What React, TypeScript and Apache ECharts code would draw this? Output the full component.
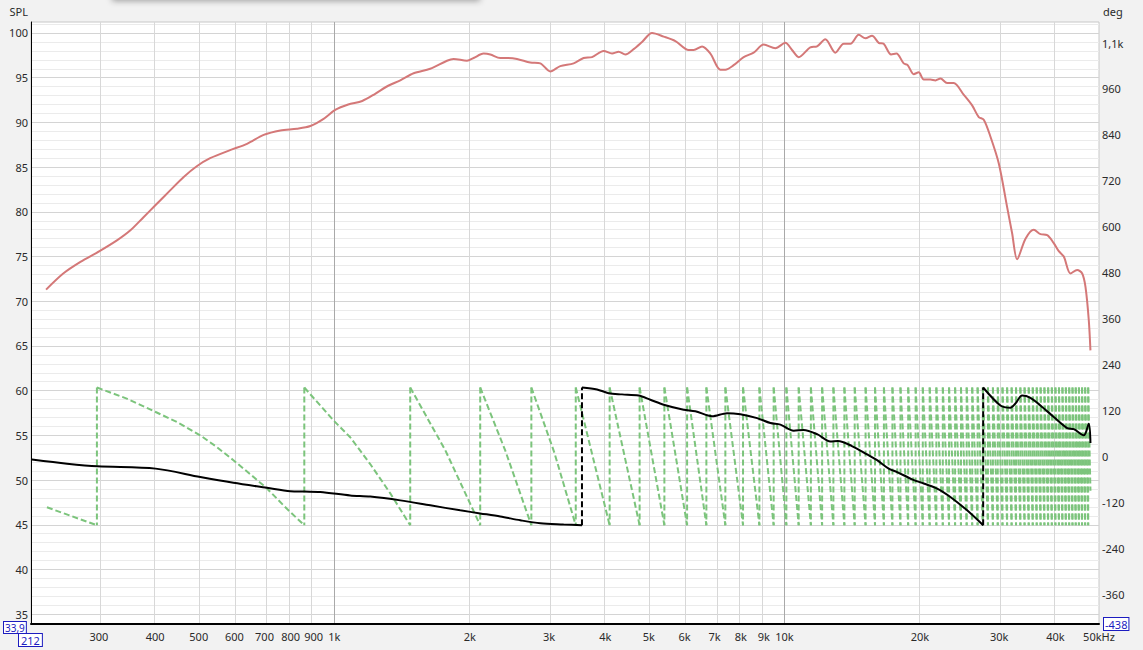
import React, { useEffect, useRef } from "react";
import * as echarts from "echarts";

// ---- axis ticks ----
const freqTicks = [300, 400, 500, 600, 700, 800, 900, 1000, 2000, 3000, 4000, 5000, 6000, 7000, 8000, 9000, 10000, 20000, 30000, 40000, 50000];
const freqTickLabels = ["300", "400", "500", "600", "700", "800", "900", "1k", "2k", "3k", "4k", "5k", "6k", "7k", "8k", "9k", "10k", "20k", "30k", "40k", "50kHz"];
const splTicks = [35, 40, 45, 50, 55, 60, 65, 70, 75, 80, 85, 90, 95, 100];
const degTicks = [-360, -240, -120, 0, 120, 240, 360, 480, 600, 720, 840, 960, 1080];
const degTickLabels = ["-360", "-240", "-120", "0", "120", "240", "360", "480", "600", "720", "840", "960", "1,1k"];
const splGridLines = [34, 35, 36, 37, 38, 39, 40, 41, 42, 43, 44, 45, 46, 47, 48, 49, 50, 51, 52, 53, 54, 55, 56, 57, 58, 59, 60, 61, 62, 63, 64, 65, 66, 67, 68, 69, 70, 71, 72, 73, 74, 75, 76, 77, 78, 79, 80, 81, 82, 83, 84, 85, 86, 87, 88, 89, 90, 91, 92, 93, 94, 95, 96, 97, 98, 99, 100, 101];

// ---- SPL (dB) ----
const splHz = [229, 250, 273, 301, 329, 352, 377, 400, 432, 463, 495, 530, 587, 640, 697, 759, 826, 885, 947, 1005, 1074, 1154, 1233, 1318, 1402, 1501, 1634, 1780, 1841, 1972, 2040, 2147, 2222, 2338, 2420, 2547, 2726, 2870, 3020, 3178, 3403, 3581, 3738, 3967, 4141, 4284, 4433, 4626, 4829, 5082, 5394, 5726, 6129, 6287, 6564, 6849, 7208, 7394, 7714, 8120, 8546, 8995, 9550, 10050, 10400, 10760, 11420, 11820, 12330, 12980, 13550, 14020, 14630, 15140, 15660, 16200, 16620, 17260, 17740, 18410, 18790, 19380, 19880, 20400, 21100, 21660, 22220, 22990, 23780, 25020, 26130, 27030, 27730, 28700, 29950, 31260, 32060, 32890, 34330, 35810, 37060, 38360, 39670, 40700, 41760, 43210, 44710, 45880, 46660, 47450, 47860];
const splDb = [71.3, 73.1, 74.4, 75.6, 76.8, 77.9, 79.4, 80.7, 82.4, 83.9, 85.1, 86.0, 86.9, 87.6, 88.6, 89.1, 89.3, 89.6, 90.4, 91.4, 92.0, 92.4, 93.2, 94.1, 94.7, 95.5, 96.0, 96.9, 97.1, 96.9, 97.2, 97.7, 97.6, 97.2, 97.2, 97.1, 96.7, 96.6, 95.7, 96.3, 96.6, 97.2, 97.3, 98.0, 97.7, 97.9, 97.6, 98.2, 99.0, 100.0, 99.6, 99.1, 98.1, 98.1, 98.5, 97.7, 95.9, 95.9, 96.4, 97.3, 97.8, 98.7, 98.3, 98.9, 98.1, 97.3, 98.4, 98.5, 99.3, 97.8, 98.8, 98.8, 99.8, 99.4, 99.7, 98.9, 98.8, 97.6, 97.7, 96.6, 96.4, 95.4, 95.6, 94.8, 94.8, 94.7, 94.9, 94.4, 94.4, 93.1, 91.9, 90.6, 90.3, 88.4, 85.4, 80.5, 77.6, 74.7, 77.0, 78.0, 77.5, 77.4, 76.5, 75.6, 75.0, 73.1, 73.5, 73.1, 71.6, 67.9, 64.5];

// ---- measured phase (deg), wrapped ----
const phaseA = [[213, -8], [255, -19], [298, -26], [401, -32], [504, -54], [597, -69], [709, -82], [799, -91], [858, -92], [931, -93], [1085, -102], [1202, -105], [1402, -115], [1634, -128], [1905, -141], [2110, -149], [2338, -157], [2590, -167], [2870, -175], [3233, -178], [3551, -180]];
const phaseB = [[3551, 180], [3836, 175], [4070, 165], [4359, 162], [4745, 159], [5038, 148], [5394, 135], [5973, 122], [6342, 118], [6908, 105], [7459, 113], [7985, 110], [8699, 100], [9309, 87], [9797, 83], [10489, 67], [11037, 69], [11822, 58], [12653, 39], [13149, 40], [14125, 27], [15272, 5], [16069, -10], [17055, -32], [17800, -41], [19222, -60], [20395, -71], [21843, -84], [23380, -106], [25468, -141], [27644, -180]];
const phaseC = [[27644, 180], [30200, 133], [31780, 127], [32600, 138], [33740, 159], [35210, 153], [37060, 133], [39670, 103], [42480, 74], [43950, 71], [46260, 55], [47450, 85], [47860, 35]];
const phaseWrapsHz = [3551, 27644];

// ---- second (green, dashed) wrapped phase ----
const greenStart = [230, -133];
const greenWrapsHz = [297, 858, 1475, 2110, 2741, 3440, 4091, 4769, 5413, 6080, 6710, 7394, 8094, 8801, 9467, 10103, 10759, 11452, 12130, 12850, 13593, 14330, 15150, 15900, 16640, 17380, 18110, 18840, 19570, 20300, 21030, 21760, 22490, 23220, 23950, 24680, 25410, 26140, 26870, 27600, 28330, 29060, 29790, 30520, 31250, 31980, 32710, 33440, 34170, 34900, 35630, 36360, 37090, 37820, 38550, 39280, 40010, 40740, 41470, 42200, 42930, 43660, 44390, 45120, 45850, 46580, 47310];
const greenMid = [[346, 151], [401, 116], [447, 90], [504, 55], [549, 24], [597, -10], [662, -54], [709, -84], [785, -137], [996, 94], [1085, 50], [1202, -20], [1331, -96], [1765, 16], [2399, 15], [3083, 10]];
const greenEnd = [47860, -90];

const FONT = '"Noto Sans", "Open Sans", sans-serif';
const lg = (f: number) => Math.log10(f);

// each wrap segment is its own polyline so the dash pattern restarts at the top of each one
function buildGreenSegments() {
  const segs: number[][][] = [];
  const w = greenWrapsHz;
  segs.push([[lg(greenStart[0]), greenStart[1]], [lg(w[0]), -180]]);
  for (let i = 0; i < w.length; i++) {
    segs.push([[lg(w[i]), 180], [lg(w[i]), -180]]);
    const seg: number[][] = [[lg(w[i]), 180]];
    const next = i + 1 < w.length ? w[i + 1] : Infinity;
    greenMid.filter((p) => p[0] > w[i] && p[0] < next).forEach((p) => seg.push([lg(p[0]), p[1]]));
    if (i + 1 < w.length) seg.push([lg(w[i + 1]), -180]);
    else seg.push([lg(greenEnd[0]), greenEnd[1]]);
    segs.push(seg);
  }
  return segs;
}

export default function App() {
  const ref = useRef<HTMLDivElement>(null);
  useEffect(() => {
    if (!ref.current) return;
    const chart = echarts.init(ref.current, null, { renderer: "svg" });
    const hLines = splGridLines.map((v) => ({
      yAxis: v,
      lineStyle: { color: v % 5 === 0 ? "#d4d4d4" : "#ebebeb", width: 1, type: "solid" },
    }));
    const vLines = freqTicks.map((f) => ({
      xAxis: lg(f),
      lineStyle: { color: f === 1000 || f === 10000 ? "#a9a9a9" : "#d8d8d8", width: 1, type: "solid" },
    }));
    const blackLine = (d: number[][]) => ({
      type: "line",
      yAxisIndex: 1,
      data: d.map((p) => [lg(p[0]), p[1]]),
      showSymbol: false,
      smooth: 0.3,
      lineStyle: { color: "#000", width: 2 },
      z: 6,
      silent: true,
    });
    const wrapLines = phaseWrapsHz.map((f) => ({
      type: "line",
      yAxisIndex: 1,
      data: [[lg(f), -180], [lg(f), 180]],
      showSymbol: false,
      lineStyle: { color: "#000", width: 2, type: [6, 3] },
      z: 6,
      silent: true,
    }));
    const greenSeries = buildGreenSegments().map((seg) => ({
      type: "line",
      yAxisIndex: 1,
      data: seg,
      showSymbol: false,
      silent: true,
      lineStyle: { color: "#7cc47c", width: 2, type: [6, 3] },
      z: 3,
    }));
    const option: any = {
      animation: false,
      backgroundColor: "#f2f2f2",
      textStyle: { fontFamily: FONT },
      grid: {
        left: 31, right: 44, top: 22, bottom: 26,
        show: true, backgroundColor: "#ffffff", borderColor: "#c8c8c8", borderWidth: 1,
        containLabel: false, outerBoundsMode: "none",
      },
      xAxis: {
        type: "value",
        min: lg(212),
        max: lg(50000),
        z: 10,
        axisLine: { show: true, onZero: false, lineStyle: { color: "#000", width: 2 } },
        axisTick: { show: false },
        splitLine: { show: false },
        axisLabel: {
          customValues: freqTicks.map(lg),
          formatter: (v: number) => {
            const i = freqTicks.findIndex((f) => Math.abs(lg(f) - v) < 1e-6);
            return i >= 0 ? freqTickLabels[i] : "";
          },
          margin: 7, color: "#2a2a2a", fontSize: 11, fontFamily: FONT,
        },
      },
      yAxis: [
        {
          type: "value", position: "left", min: 33.9, max: 101.23, z: 10,
          axisLine: { show: true, onZero: false, lineStyle: { color: "#000", width: 1 } },
          axisTick: { show: false }, splitLine: { show: false },
          axisLabel: { customValues: splTicks, margin: 3, color: "#2a2a2a", fontSize: 11, fontFamily: FONT },
        },
        {
          type: "value", position: "right", min: -438, max: 1135,
          axisLine: { show: false, onZero: false }, axisTick: { show: false }, splitLine: { show: false },
          axisLabel: {
            customValues: degTicks,
            formatter: (v: number) => {
              const i = degTicks.indexOf(Math.round(v));
              return i >= 0 ? degTickLabels[i] : "";
            },
            margin: 3, color: "#2a2a2a", fontSize: 11, fontFamily: FONT,
          },
        },
      ],
      series: [
        {
          type: "line", yAxisIndex: 0, data: [], z: 1, silent: true,
          markLine: {
            z: 1, silent: true, symbol: ["none", "none"], label: { show: false }, animation: false,
            emphasis: { disabled: true },
            data: [...hLines, ...vLines],
          },
        },
        ...greenSeries,
        {
          type: "line", yAxisIndex: 0, data: splHz.map((f, i) => [lg(f), splDb[i]]),
          showSymbol: false, smooth: 0.3, silent: true,
          lineStyle: { color: "#d47878", width: 2 }, z: 4,
        },
        blackLine(phaseA), blackLine(phaseB), blackLine(phaseC),
        ...wrapLines,
      ],
      graphic: [
        { type: "rect", shape: { x: 112, y: -20, width: 368, height: 20 }, style: { fill: "#f2f2f2", shadowBlur: 6, shadowColor: "rgba(0,0,0,0.35)", shadowOffsetY: 1 }, silent: true },
        { type: "text", x: 28, y: 11, style: { text: "SPL", fill: "#2a2a2a", font: `11px ${FONT}`, align: "right", verticalAlign: "middle" } },
        { type: "text", x: 1103, y: 11, style: { text: "deg", fill: "#2a2a2a", font: `11px ${FONT}`, align: "left", verticalAlign: "middle" } },
        { type: "text", x: 4, y: 622, z: 20, style: { text: "33,9", fill: "#1c1cc0", font: `10px ${FONT}`, lineHeight: 11, backgroundColor: "#fff", borderColor: "#1c1cc0", borderWidth: 1, padding: [0, 1, 0, 1] } },
        { type: "text", x: 19, y: 634, z: 20, style: { text: "212", fill: "#1c1cc0", font: `11px ${FONT}`, lineHeight: 12, backgroundColor: "#fff", borderColor: "#1c1cc0", borderWidth: 1, padding: [0, 2, 0, 2] } },
        { type: "text", x: 1104, y: 618, z: 20, style: { text: "-438", fill: "#1c1cc0", font: `11px ${FONT}`, lineHeight: 12, backgroundColor: "#fff", borderColor: "#1c1cc0", borderWidth: 1, padding: [0, 1, 0, 1] } },
      ],
    };
    chart.setOption(option);
    return () => chart.dispose();
  }, []);
  return <div ref={ref} style={{ position: "fixed", left: 0, top: 0, width: 1143, height: 650 }} />;
}
